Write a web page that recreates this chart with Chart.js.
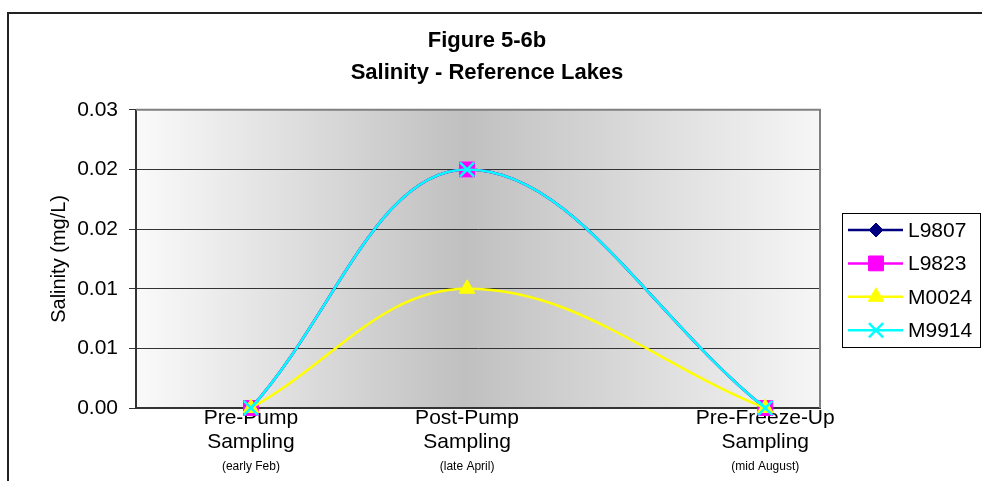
<!DOCTYPE html>
<html>
<head>
<meta charset="utf-8">
<title>Figure 5-6b Salinity - Reference Lakes</title>
<script src="https://cdn.jsdelivr.net/npm/chart.js"></script>
<style>
  html, body { margin: 0; padding: 0; background: #ffffff; }
  #wrap { width: 982px; height: 481px; position: relative; }
  canvas { display: block; }
</style>
</head>
<body>
<div id="wrap"><canvas id="salinity" width="982" height="481"></canvas></div>
<script>
// Sampling events (x positions are approximate day of year)
const sampleNames = [['Pre-Pump', 'Sampling'], ['Post-Pump', 'Sampling'], ['Pre-Freeze-Up', 'Sampling']];
const samplePeriods = ['(early Feb)', '(late April)', '(mid August)'];
const sampleDays = [42, 121, 230];

// Salinity (mg/L) per lake
const seriesNames = ['L9807', 'L9823', 'M0024', 'M9914'];
const l9807 = [0, 0.024, 0];
const l9823 = [0, 0.024, 0];
const m0024 = [0, 0.012, 0];
const m9914 = [0, 0.024, 0];

const FONT = "'Liberation Sans', Arial, Helvetica, sans-serif";
Chart.defaults.font.family = FONT;
Chart.defaults.color = '#000000';

const seriesStyle = [
  { color: '#000080', pointStyle: 'rectRot',  radius: 7,  borderWidth: 1 },
  { color: '#FF00FF', pointStyle: 'rect',     radius: 10.5, borderWidth: 1 },
  { color: '#FFFF00', pointStyle: 'triangle', radius: 9,  borderWidth: 1 },
  { color: '#00FFFF', pointStyle: 'crossRot', radius: 10, borderWidth: 2.5 }
];
const seriesValues = [l9807, l9823, m0024, m9914];

const toPoints = vals => vals.map((v, i) => ({ x: sampleDays[i], y: v }));

const datasets = seriesValues.map((vals, i) => ({
  label: seriesNames[i],
  data: toPoints(vals),
  xAxisID: 'x',
  yAxisID: 'y',
  borderColor: seriesStyle[i].color,
  backgroundColor: seriesStyle[i].color,
  borderWidth: 2.5,
  tension: 0.38,
  pointStyle: seriesStyle[i].pointStyle,
  pointRadius: seriesStyle[i].radius,
  pointHoverRadius: seriesStyle[i].radius,
  pointBorderWidth: seriesStyle[i].borderWidth,
  pointBackgroundColor: seriesStyle[i].color,
  pointBorderColor: seriesStyle[i].color,
  clip: false,
  order: seriesValues.length - i
}));

// Grey gradient behind the plot, plus the outer chart frame
const backdrop = {
  id: 'backdrop',
  beforeDraw(chart) {
    const { ctx, chartArea: a } = chart;
    ctx.save();
    const g = ctx.createLinearGradient(a.left, 0, a.right, 0);
    g.addColorStop(0, '#fafafa');
    g.addColorStop(0.48, '#c0c0c0');
    g.addColorStop(1, '#f6f6f6');
    ctx.fillStyle = g;
    ctx.fillRect(a.left, a.top, a.right - a.left, a.bottom - a.top);
    ctx.strokeStyle = '#222222';
    ctx.lineWidth = 2;
    ctx.beginPath();
    ctx.moveTo(8, chart.height + 2);
    ctx.lineTo(8, 13);
    ctx.lineTo(chart.width + 2, 13);
    ctx.stroke();
    ctx.restore();
  },
  beforeDatasetsDraw(chart) {
    const { ctx, chartArea: a } = chart;
    ctx.save();
    ctx.strokeStyle = '#808080';
    ctx.lineWidth = 2;
    ctx.beginPath();
    ctx.moveTo(a.left, a.top);
    ctx.lineTo(a.right, a.top);
    ctx.lineTo(a.right, a.bottom);
    ctx.stroke();
    ctx.restore();
  }
};

function marker(ctx, st, x, y) {
  ctx.fillStyle = st.color;
  ctx.strokeStyle = st.color;
  ctx.lineWidth = st.borderWidth;
  if (Chart.helpers && Chart.helpers.drawPoint) {
    Chart.helpers.drawPoint(ctx, { pointStyle: st.pointStyle, radius: st.radius, rotation: 0, borderWidth: st.borderWidth }, x, y);
  }
}

// Legend box with line + marker samples
const lineLegend = {
  id: 'lineLegend',
  afterDraw(chart) {
    const { ctx, chartArea: a } = chart;
    const left = a.right + 22, top = 213, rowH = 33.4;
    ctx.save();
    ctx.strokeStyle = '#000000';
    ctx.lineWidth = 1;
    ctx.strokeRect(left + 0.5, top + 0.5, 138, 134);
    ctx.font = '21px ' + FONT;
    ctx.textBaseline = 'middle';
    ctx.textAlign = 'left';
    seriesNames.forEach((name, i) => {
      const st = seriesStyle[i];
      const y = top + 17 + i * rowH;
      ctx.strokeStyle = st.color;
      ctx.lineWidth = 2.5;
      ctx.beginPath();
      ctx.moveTo(left + 6, y);
      ctx.lineTo(left + 61, y);
      ctx.stroke();
      marker(ctx, st, left + 34, y);
      ctx.fillStyle = '#000000';
      ctx.fillText(name, left + 66, y + 1);
    });
    ctx.restore();
  }
};

const sampleTicks = axis => { axis.ticks = sampleDays.map(v => ({ value: v })); };

new Chart(document.getElementById('salinity'), {
  type: 'line',
  data: { datasets },
  plugins: [backdrop, lineLegend],
  options: {
    responsive: false,
    animation: false,
    events: [],
    layout: { padding: { left: 8, right: 16, top: 0, bottom: 0 } },
    plugins: {
      legend: { display: false },
      tooltip: { enabled: false },
      title: {
        display: true,
        text: ['Figure 5-6b', 'Salinity - Reference Lakes'],
        color: '#000000',
        font: { family: FONT, size: 22, weight: 'bold', lineHeight: 1.45 },
        padding: { top: 25, bottom: 21 }
      }
    },
    scales: {
      x: {
        type: 'linear',
        position: 'bottom',
        min: 0,
        max: 250,
        weight: 0,
        afterBuildTicks: sampleTicks,
        afterFit: s => { s.height = 46; },
        grid: { display: false, drawTicks: false },
        border: { display: true, color: '#333333', width: 2 },
        ticks: {
          autoSkip: false,
          maxRotation: 0,
          padding: -2,
          font: { family: FONT, size: 21, lineHeight: 1.14 },
          color: '#000000',
          callback: (v, i) => sampleNames[i]
        }
      },
      x2: {
        type: 'linear',
        position: 'bottom',
        min: 0,
        max: 250,
        weight: 1,
        afterBuildTicks: sampleTicks,
        afterFit: s => { s.height = 27; },
        grid: { display: false, drawTicks: false },
        border: { display: false },
        ticks: {
          autoSkip: false,
          maxRotation: 0,
          padding: 5,
          font: { family: FONT, size: 12 },
          color: '#000000',
          callback: (v, i) => samplePeriods[i]
        }
      },
      y: {
        type: 'linear',
        position: 'left',
        min: 0,
        max: 0.03,
        afterFit: s => { s.width = 128; },
        grid: { color: '#333333', lineWidth: 1, drawTicks: true, tickLength: 7 },
        border: { display: true, color: '#333333', width: 2 },
        ticks: {
          stepSize: 0.006,
          padding: 11,
          font: { family: FONT, size: 21 },
          color: '#000000',
          callback: v => v.toFixed(2)
        },
        title: {
          display: true,
          text: 'Salinity (mg/L)',
          color: '#000000',
          font: { family: FONT, size: 20, lineHeight: 1.2 },
          padding: { top: 39, bottom: 0 }
        }
      },
      legendSpace: {
        type: 'linear',
        position: 'right',
        min: 0,
        max: 1,
        afterFit: s => { s.width = 146; },
        grid: { display: false, drawTicks: false },
        border: { display: false },
        ticks: { display: false }
      }
    }
  }
});
</script>
</body>
</html>
